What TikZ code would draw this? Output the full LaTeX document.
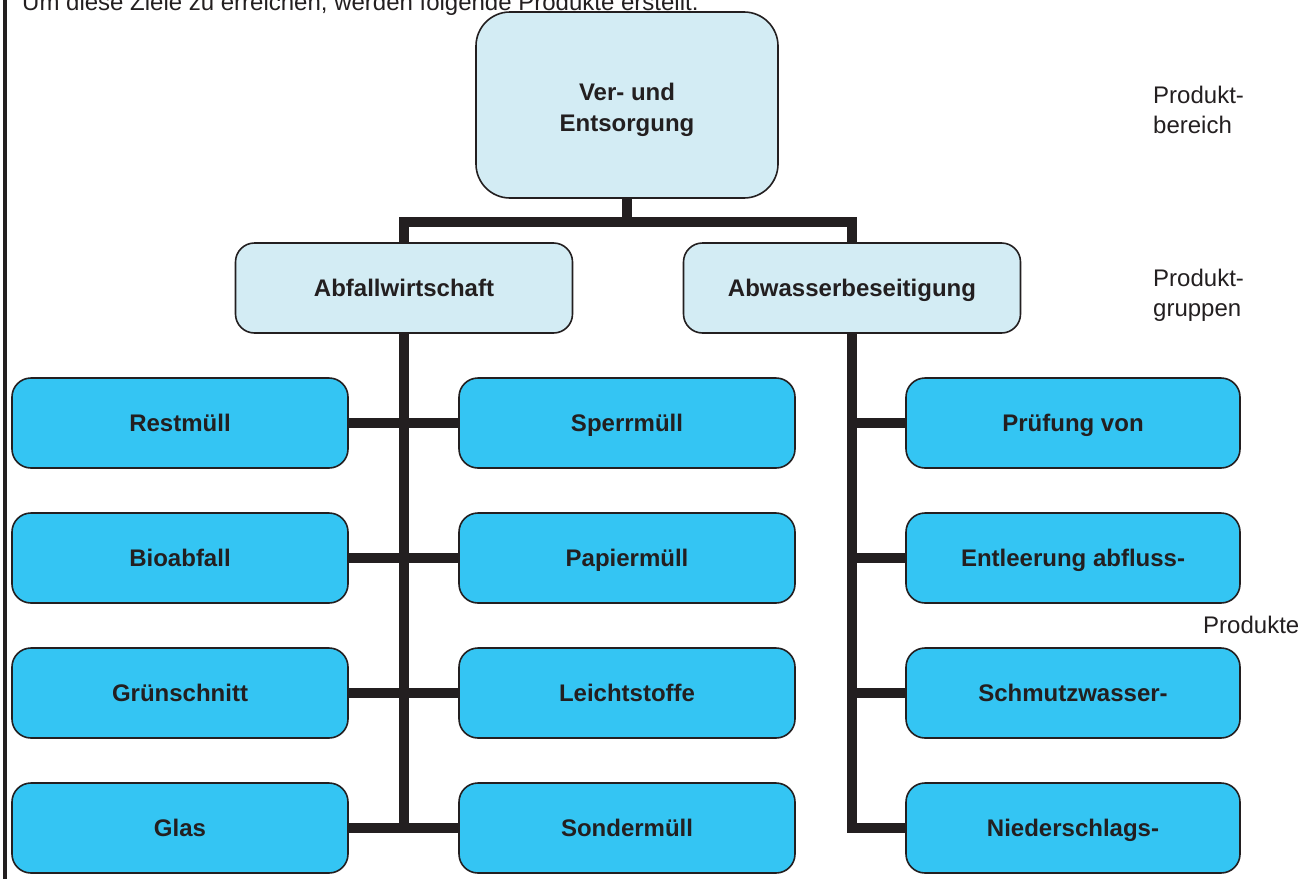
\documentclass[tikz,border=0pt]{standalone}
\usepackage{fontspec}
\setmainfont{Liberation Sans}
\definecolor{ink}{HTML}{231F20}
\definecolor{paleblue}{HTML}{D3ECF4}
\definecolor{cyanbox}{HTML}{34C5F3}
\begin{document}
\begin{tikzpicture}[x=1pt,y=-1pt,
  box/.style={draw=ink, line width=1.6pt, inner sep=0pt, text=ink,
    font=\fontsize{24}{31}\selectfont\bfseries, align=center},
  unit/.style={box, fill=cyanbox, rounded corners=19pt,
    minimum width=336pt, minimum height=90pt, text height=17pt, text depth=0pt},
  groupbox/.style={box, fill=paleblue, rounded corners=19pt,
    minimum width=337pt, minimum height=90pt, text height=17pt, text depth=0pt},
  areabox/.style={box, fill=paleblue, rounded corners=34pt,
    minimum width=302pt, minimum height=186pt},
  conn/.style={draw=ink, line width=10.5pt},
  note/.style={anchor=base west, inner sep=0pt, text=ink,
    font=\fontsize{24}{30}\selectfont, align=left}]

\useasboundingbox (0,0) rectangle (1305,878);
\clip (0,0) rectangle (1305,878);

% page margin rule and the running sentence above the chart
\draw[ink, line width=3.5pt] (5,-5) -- (5,890);
\node[note] (intro) at (22,10) {Um diese Ziele zu erreichen, werden folgende Produkte erstellt.};

% level 1 (the strut lowers the two lines a little inside the box)
\node[areabox] (area) at (627,105) {\rule{0pt}{27pt}Ver- und\\Entsorgung};

% level 2
\node[groupbox] (abfall) at (404,288) {Abfallwirtschaft};
\node[groupbox] (abwasser) at (852,288) {Abwasserbeseitigung};

% level 3, waste management
\node[unit] (rest)   at (180,423) {Restmüll};
\node[unit] (bio)    at (180,558) {Bioabfall};
\node[unit] (gruen)  at (180,693) {Grünschnitt};
\node[unit] (glas)   at (180,828) {Glas};
\node[unit] (sperr)  at (627,423) {Sperrmüll};
\node[unit] (papier) at (627,558) {Papiermüll};
\node[unit] (leicht) at (627,693) {Leichtstoffe};
\node[unit] (sonder) at (627,828) {Sondermüll};

% level 3, waste water
\node[unit, minimum width=334pt] (pruef)   at (1073,423) {Prüfung von};
\node[unit, minimum width=334pt] (entl)    at (1073,558) {Entleerung abfluss-};
\node[unit, minimum width=334pt] (schmutz) at (1073,693) {Schmutzwasser-};
\node[unit, minimum width=334pt] (nieder)  at (1073,828) {Niederschlags-};

% level captions (base anchor sits on the last line)
\node[note] (capA) at (1153,133) {Produkt-\\bereich};
\node[note] (capB) at (1153,316) {Produkt-\\gruppen};
\node[note] (capC) at (1203,633) {Produkte};

% connectors
\coordinate (hub) at (627,222);
\draw[conn] (area.south) -- (hub);
\draw[conn] (abfall.north) |- (hub) -| (abwasser.north);

\draw[conn] (abfall.south) -- (abfall.south |- 0,833);
\draw[conn] (rest.east)  -- (sperr.west);
\draw[conn] (bio.east)   -- (papier.west);
\draw[conn] (gruen.east) -- (leicht.west);
\draw[conn] (glas.east)  -- (sonder.west);

\draw[conn] (abwasser.south) |- (nieder.west);
\draw[conn] (abwasser.south |- pruef.west)   -- (pruef.west);
\draw[conn] (abwasser.south |- entl.west)    -- (entl.west);
\draw[conn] (abwasser.south |- schmutz.west) -- (schmutz.west);
\end{tikzpicture}
\end{document}
